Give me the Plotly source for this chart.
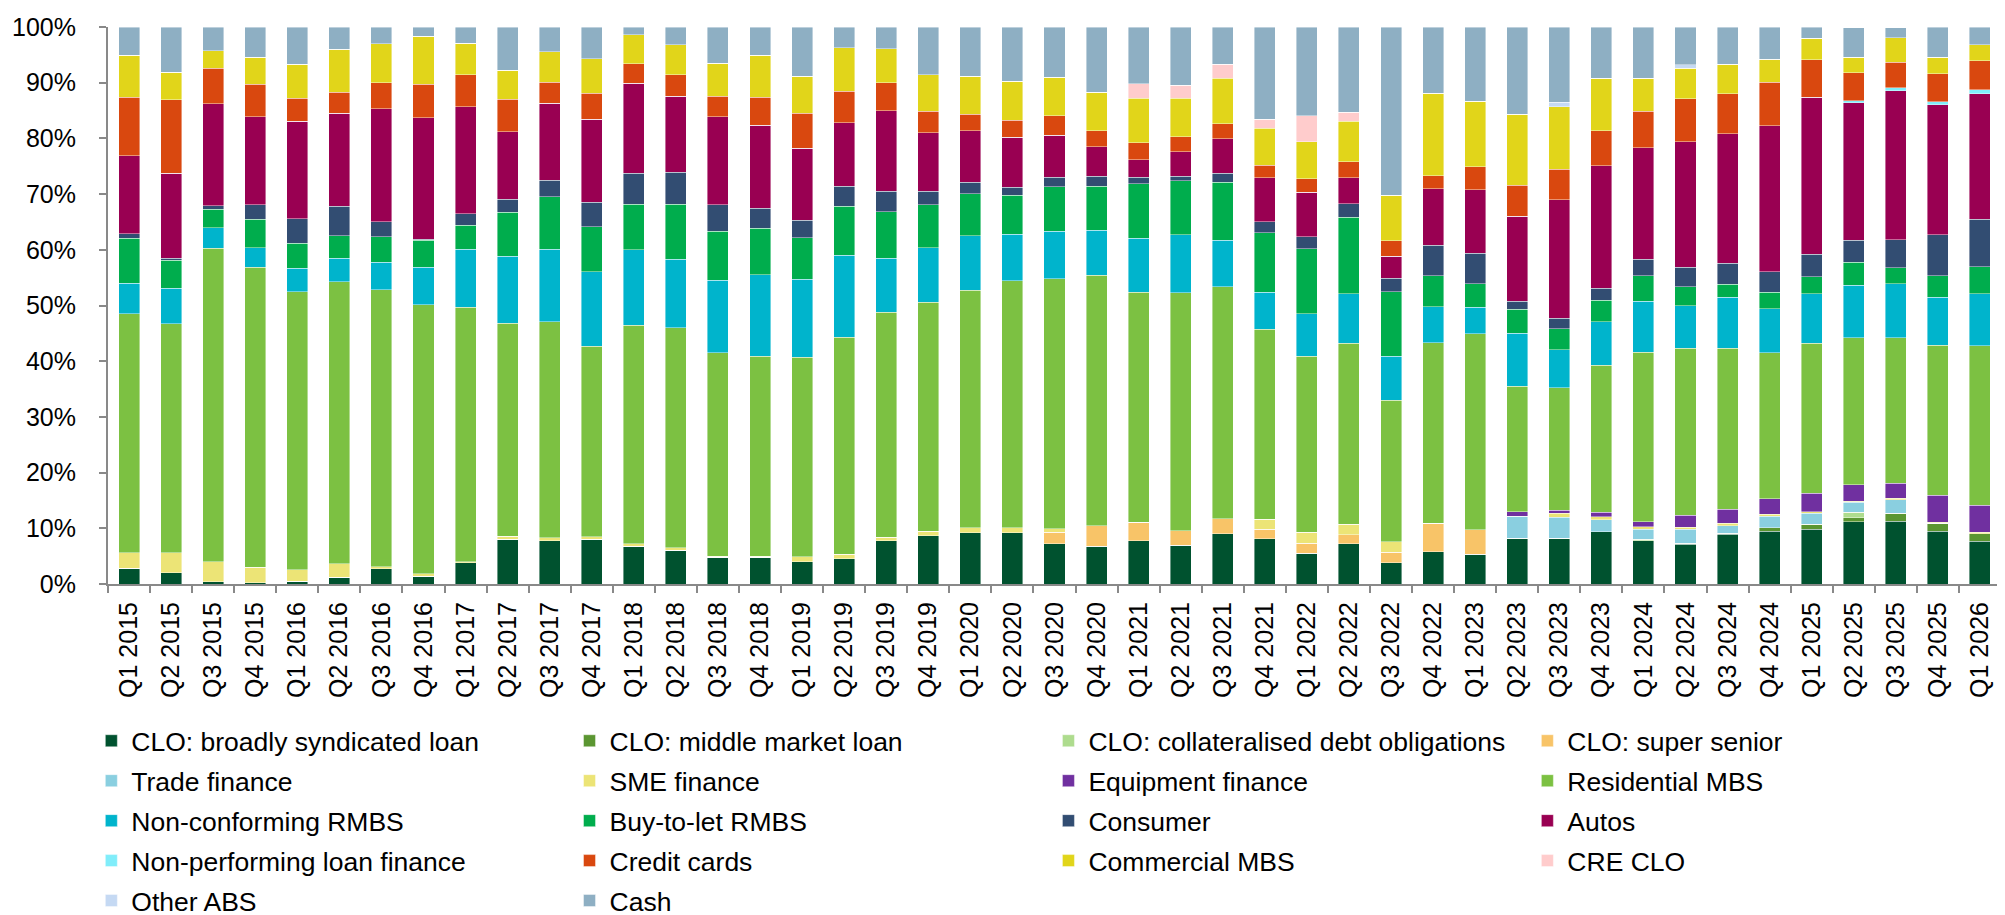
import plotly.graph_objects as go

quarters = ["Q1", "Q2", "Q3", "Q4"]
categories = [f"{q} {y}" for y in range(2015, 2027) for q in quarters][:45]

series_names = [
    "CLO: broadly syndicated loan", "CLO: middle market loan",
    "CLO: collateralised debt obligations", "CLO: super senior",
    "Trade finance", "SME finance", "Equipment finance", "Residential MBS",
    "Non-conforming RMBS", "Buy-to-let RMBS", "Consumer", "Autos",
    "Non-performing loan finance", "Credit cards", "Commercial MBS", "CRE CLO",
    "Other ABS", "Cash",
]

clo_bsl = [2.8, 2.0, 0.4, 0.2, 0.5, 1.2, 2.7, 1.4, 3.8, 8.0, 7.8, 8.0, 6.8, 6.1, 4.8,
           4.8, 4.0, 4.5, 7.8, 8.7, 9.2, 9.2, 7.2, 6.8, 7.8, 7.0, 9.0, 8.1, 5.5, 7.2,
           3.8, 5.8, 5.3, 8.2, 8.2, 9.4, 7.8, 7.1, 8.9, 9.5, 9.8, 11.2, 11.3, 9.5, 7.7]
clo_mm = [0] * 37 + [0.2, 0.2, 0.6, 0.9, 0.7, 1.4, 1.4, 1.3]
clo_cdo = [0] * 36 + [0.2, 0, 0, 0, 0, 1.0, 0, 0, 0]
clo_ss = [0] * 22 + [2.1, 3.7, 3.3, 2.6, 2.7, 1.7, 1.8, 1.6, 1.9, 5.1, 4.4] + [0] * 12
trade = [0] * 33 + [4.0, 3.8, 2.1, 1.8, 2.5, 1.4, 2.1, 2.0, 1.8, 2.4, 0, 0]
sme = [2.8, 3.6, 3.6, 2.8, 2.1, 2.4, 0.4, 0.4, 0.2, 0.6, 0.5, 0.5, 0.4, 0.4, 0.2,
       0.2, 0.9, 0.8, 0.6, 0.8, 0.9, 0.9, 0.6, 0, 0, 0, 0, 1.8, 2.0, 1.9,
       1.9, 0, 0, 0, 0.7, 0.6, 0.5, 0.4, 0.4, 0.3, 0.3, 0.2, 0.3, 0.2, 0.3]
equipment = [0] * 33 + [0.8, 0.5, 0.8, 0.9, 2.1, 2.5, 2.8, 3.3, 2.9, 2.7, 4.8, 4.8]
rmbs = [42.9, 41.1, 56.3, 53.9, 49.9, 50.7, 49.7, 48.3, 45.7, 38.2, 38.8, 34.2, 39.3, 39.5, 36.5,
        35.9, 35.8, 39.0, 40.4, 41.1, 42.6, 44.3, 44.9, 44.9, 41.3, 42.7, 41.7, 34.1, 31.6, 32.5,
        25.4, 32.4, 35.2, 22.5, 22.0, 26.4, 30.4, 30.0, 28.9, 26.2, 26.9, 26.4, 26.1, 27.0, 28.7]
non_conf = [5.5, 6.4, 3.7, 3.5, 4.2, 4.2, 5.0, 6.8, 10.4, 12.0, 13.0, 13.4, 13.5, 12.3, 13.0,
            14.6, 14.0, 14.7, 9.7, 9.8, 9.8, 8.4, 8.5, 8.1, 9.7, 10.4, 8.3, 6.7, 7.6, 8.9,
            7.9, 6.5, 4.8, 9.5, 6.9, 7.8, 9.2, 7.7, 9.2, 7.9, 8.9, 9.4, 9.7, 8.6, 9.3]
btl = [8.1, 5.0, 3.3, 5.1, 4.5, 4.0, 4.5, 4.8, 4.3, 7.9, 9.4, 8.0, 8.2, 9.9, 8.8,
       8.4, 7.5, 8.8, 8.3, 7.7, 7.6, 7.0, 8.0, 7.9, 9.8, 9.7, 10.4, 10.7, 11.7, 13.7,
       11.6, 5.5, 4.2, 4.3, 3.7, 3.8, 4.5, 3.4, 2.3, 3.0, 3.1, 4.2, 2.9, 3.8, 4.9]
consumer = [0.8, 0.4, 0.6, 2.6, 4.4, 5.3, 2.7, 0.2, 2.1, 2.4, 3.0, 4.4, 5.5, 5.7, 4.8,
            3.6, 3.1, 3.6, 3.7, 2.4, 2.0, 1.4, 1.7, 1.8, 1.1, 0.8, 1.6, 1.9, 2.1, 2.5,
            2.4, 5.5, 5.5, 1.5, 1.9, 2.2, 3.0, 3.5, 3.8, 3.7, 4.0, 3.9, 5.0, 7.4, 8.5]
autos = [14.0, 15.2, 18.3, 15.8, 17.5, 16.7, 20.3, 21.8, 19.2, 12.1, 13.8, 14.9, 16.2, 13.7, 15.8,
         14.9, 12.9, 11.4, 14.5, 10.5, 9.3, 9.0, 7.6, 5.3, 3.2, 4.4, 6.2, 7.9, 8.0, 4.6,
         3.9, 10.2, 11.4, 15.2, 21.3, 22.0, 20.0, 22.5, 23.2, 26.2, 28.2, 24.7, 26.8, 23.3, 22.5]
npl = [0] * 41 + [0.4, 0.5, 0.6, 0.7]
credit_cards = [10.5, 13.2, 6.4, 5.8, 4.1, 3.8, 4.7, 6.0, 5.7, 5.8, 3.8, 4.7, 3.5, 3.8, 3.7,
                5.0, 6.3, 5.7, 5.0, 3.9, 2.9, 3.1, 3.5, 2.9, 3.0, 2.7, 2.7, 2.3, 2.5, 2.9,
                2.8, 2.3, 4.1, 5.6, 5.5, 6.3, 6.6, 7.7, 7.2, 7.8, 6.7, 5.0, 4.6, 5.0, 5.2]
cmbs = [7.5, 5.0, 3.1, 4.9, 6.1, 7.7, 7.0, 8.6, 5.7, 5.2, 5.5, 6.2, 5.2, 5.4, 5.9,
        7.5, 6.7, 7.8, 6.1, 6.5, 6.9, 7.0, 6.9, 6.9, 8.0, 6.9, 8.2, 6.6, 6.6, 7.3,
        8.2, 14.8, 11.8, 12.7, 11.2, 9.4, 5.9, 5.5, 5.3, 4.1, 3.9, 2.8, 4.4, 3.0, 2.9]
cre_clo = [0] * 24 + [2.6, 2.3, 2.5, 1.6, 4.7, 1.6] + [0] * 15
other_abs = [0] * 34 + [0.8, 0, 0, 0.6] + [0] * 7
cash = [5.1, 8.1, 4.3, 5.4, 6.7, 4.0, 3.0, 1.7, 2.9, 7.8, 4.4, 5.7, 1.4, 3.2, 6.5,
        5.1, 8.8, 3.7, 3.9, 8.6, 8.8, 9.7, 9.0, 11.7, 10.2, 10.5, 6.7, 16.6, 15.9, 15.3,
        30.2, 11.9, 13.3, 15.7, 13.5, 9.2, 9.2, 6.8, 6.7, 5.8, 2.0, 5.3, 1.8, 5.4, 3.2]

series_values = [clo_bsl, clo_mm, clo_cdo, clo_ss, trade, sme, equipment, rmbs,
                 non_conf, btl, consumer, autos, npl, credit_cards, cmbs, cre_clo,
                 other_abs, cash]

colors = ["#00522F", "#5B9632", "#AEDC8E", "#F8C468", "#8ACFE0", "#ECE476",
          "#7030A0", "#7CC142", "#00B4CC", "#00AD4D", "#324D72", "#990052",
          "#80EDFA", "#D9480F", "#E1D51A", "#FFCCCC", "#C5D9F3", "#8EAFC3"]

font_family = "Liberation Sans, Arial, sans-serif"
legend_ids = ["legend", "legend2", "legend3", "legend4"]

fig = go.Figure()
for i, (name, vals, col) in enumerate(zip(series_names, series_values, colors)):
    fig.add_trace(go.Bar(
        x=categories, y=vals, name=name,
        marker=dict(color=col, line=dict(color="rgba(255,255,255,0.7)", width=0.6)),
        legend=legend_ids[i % 4], legendgroup=f"g{i}",
        hovertemplate="%{x}<br>" + name + ": %{y:.1f}%<extra></extra>",
    ))

legend_x = [-0.0088, 0.2438, 0.4968, 0.7498]
leg_common = dict(orientation="v", traceorder="grouped", tracegroupgap=2.5,
                  font=dict(family=font_family, size=26.5, color="#000000"),
                  bgcolor="rgba(0,0,0,0)", xanchor="left", yanchor="top", y=-0.2388)

layout_legends = {lid: dict(leg_common, x=lx) for lid, lx in zip(legend_ids, legend_x)}

fig.update_layout(
    width=2005, height=915,
    barmode="stack", bargap=0.5,
    plot_bgcolor="white", paper_bgcolor="white",
    margin=dict(l=100, r=12, t=19, b=339, autoexpand=False),
    font=dict(family=font_family, size=25, color="#000000"),
    showlegend=True,
    **layout_legends,
)
fig.update_xaxes(
    type="category", tickangle=-90, ticks="outside", tickson="boundaries",
    ticklen=7, tickwidth=2, tickcolor="#898989", showline=True, linecolor="#898989",
    linewidth=2, showgrid=False, automargin=False, ticklabelstandoff=6,
    tickfont=dict(size=25, color="#000000"),
)
fig.update_yaxes(
    range=[0, 100], dtick=10, ticksuffix="%", ticks="outside", ticklen=7,
    tickwidth=2, tickcolor="#898989", showline=True, linecolor="#898989",
    linewidth=2, showgrid=False, zeroline=False, automargin=False,
    ticklabelstandoff=18, tickfont=dict(size=25, color="#000000"),
)

fig.write_html("out.html")
